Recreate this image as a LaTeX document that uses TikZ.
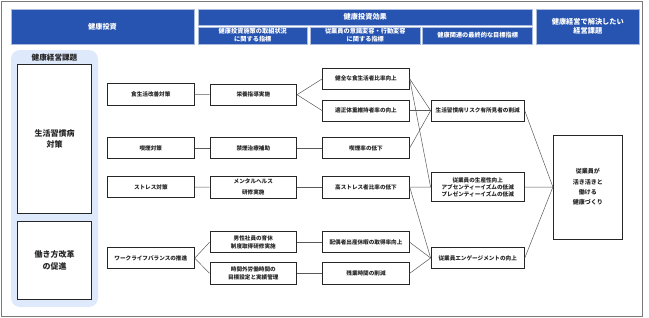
\documentclass[tikz,border=0pt]{standalone}
\usepackage{fontspec}
\setmainfont{Noto Sans CJK JP}
\usepackage{xcolor}
\usepackage{tikz}

\definecolor{hdrblue}{HTML}{2754B0}
\definecolor{panelblue}{HTML}{DFE9FC}
\definecolor{framegray}{HTML}{7A7A7A}

\begin{document}
\begin{tikzpicture}[x=1pt, y=-1pt,
		hdr/.style={draw=white!60!hdrblue, line width=0.6pt, fill=hdrblue, text=white, align=center, inner sep=0pt, font=\fontsize{7.2}{9}\selectfont\bfseries},
		subhdr/.style={hdr, minimum height=17pt, font=\fontsize{6.2}{7.8}\selectfont\bfseries},
		box/.style={draw=black!85, line width=0.8pt, fill=white, align=center, inner sep=0pt, text=black!85, minimum height=21.3pt, font=\fontsize{5.6}{7.6}\selectfont\bfseries},
		bigbox/.style={box, minimum width=74.4pt, font=\fontsize{8}{11.5}\selectfont\bfseries},
		link/.style={draw=black!65, line width=0.5pt}]
	\def\colA{150.8}
	\def\colB{253.3}
	\def\colC{366}
	\def\colD{477.7}
	
	\useasboundingbox (0,0) rectangle (649,317);
	\draw[framegray, line width=1pt] (1.5,1.5) rectangle (642,316);
	
	% header
	\node[hdr, minimum width=183pt, minimum height=35pt] (hInvest) at (102.5,26.7) {健康投資};
	\node[hdr, minimum width=334.7pt, minimum height=16pt] (hEffect) at (365.3,17) {健康投資効果};
	\node[subhdr, minimum width=109.7pt] (hSubA) at (252.8,35.5) {健康投資施策の取組状況\\に関する指標};
	\node[subhdr, minimum width=109.3pt] (hSubB) at (365.3,35.5) {従業員の意識変容・行動変容\\に関する指標};
	\node[subhdr, minimum width=110pt] (hSubC) at (477.7,35.5) {健康関連の最終的な目標指標};
	\node[hdr, minimum width=102.3pt, minimum height=35pt] (hGoal) at (587.8,26.7) {健康経営で解決したい\\経営課題};
	
	% left panel
	\fill[panelblue, rounded corners=9pt] (11,50) rectangle (98,307);
	\node[text=black!85, font=\fontsize{7.6}{9}\selectfont\bfseries] (panelTitle) at (54.5,57.3) {健康経営課題};
	\node[bigbox, minimum height=148.6pt] (issueLife) at (54.5,139) {生活習慣病\\対策};
	\node[bigbox, minimum height=77.3pt] (issueWork) at (54.5,260.3) {働き方改革\\の促進};
	
	% measures
	\node[box, minimum width=87pt] (diet) at (\colA,94.5) {食生活改善対策};
	\node[box, minimum width=87pt] (smoke) at (\colA,148) {喫煙対策};
	\node[box, minimum width=87pt] (stress) at (\colA,187.2) {ストレス対策};
	\node[box, minimum width=87pt] (wlb) at (\colA,258.2) {ワークライフバランスの推進};
	
	% actions
	\node[box, minimum width=86.7pt] (nutri) at (\colB,94.7) {栄養指導実施};
	\node[box, minimum width=86.7pt] (quit) at (\colB,148) {禁煙治療補助};
	\node[box, minimum width=86.7pt, minimum height=22pt, font=\fontsize{5.6}{10.4}\selectfont\bfseries] (mental) at (\colB,187) {メンタルヘルス\\研修実施};
	\node[box, minimum width=86.7pt] (paternity) at (\colB,242.2) {男性社員の育休\\制度取得研修実施};
	\node[box, minimum width=86.7pt] (overtime) at (\colB,273.3) {時間外労働時間の\\目標設定と実績管理};
	
	% awareness indicators
	\node[box, minimum width=86.6pt] (healthyDiet) at (\colC,78.8) {健全な食生活者比率向上};
	\node[box, minimum width=86.6pt] (weight) at (\colC,110.7) {適正体重維持者率の向上};
	\node[box, minimum width=86.6pt] (smokeRate) at (\colC,148) {喫煙率の低下};
	\node[box, minimum width=86.6pt, minimum height=22pt] (highStress) at (\colC,187) {高ストレス者比率の低下};
	\node[box, minimum width=86.6pt] (leave) at (\colC,242.2) {配偶者出産休暇の取得率向上};
	\node[box, minimum width=86.6pt] (overtimeCut) at (\colC,273.3) {残業時間の削減};
	
	% final indicators
	\node[box, minimum width=93.3pt] (risk) at (\colD,110.7) {生活習慣病リスク有所見者の削減};
	\node[box, minimum width=93.3pt, minimum height=29pt, font=\fontsize{5.6}{7}\selectfont\bfseries] (productivity) at (\colD,187.2) {従業員の生産性向上\\アブセンティーイズムの低減\\プレゼンティーイズムの低減};
	\node[box, minimum width=93.3pt] (engagement) at (\colD,258) {従業員エンゲージメントの向上};
	
	% goal
	\node[box, minimum width=69pt, minimum height=104pt, font=\fontsize{6}{10.4}\selectfont\bfseries] (goal) at (587.8,187) {従業員が\\活き活きと\\働ける\\健康づくり};
	
	% connectors
	\foreach \a/\b in {diet/nutri, smoke/quit, stress/mental, wlb/paternity, wlb/overtime,
		nutri/healthyDiet, nutri/weight, quit/smokeRate, mental/highStress, paternity/leave, overtime/overtimeCut,
		healthyDiet/risk, weight/risk, smokeRate/risk, healthyDiet/productivity,
		highStress/productivity, highStress/engagement, leave/engagement, overtimeCut/engagement,
		risk/goal, productivity/goal, engagement/goal}
		\draw[link] (\a.east) -- (\b.west);
\end{tikzpicture}
\end{document}
